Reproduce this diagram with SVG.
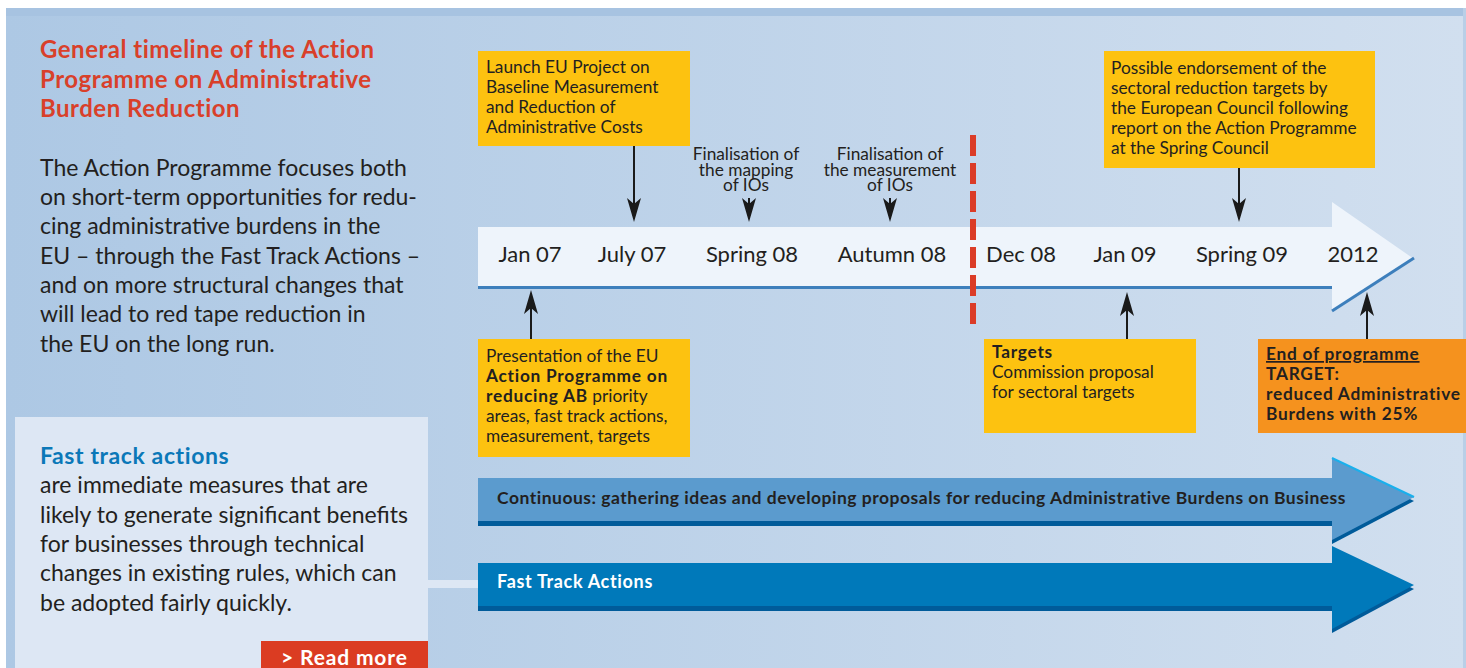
<svg xmlns="http://www.w3.org/2000/svg" width="1466" height="668" viewBox="0 0 1466 668">
<defs>
<linearGradient id="bg" x1="0" y1="0" x2="1" y2="0">
<stop offset="0" stop-color="#ADC8E4"/>
<stop offset="1" stop-color="#D1DFEF"/>
</linearGradient>
<marker id="ah" viewBox="0 0 24 14" refX="20" refY="7" markerWidth="24" markerHeight="14" markerUnits="userSpaceOnUse" orient="auto">
<path d="M0,0 L24,7 L0,14 L6,7 Z" fill="#1A1A1A"/>
</marker>
</defs>
<style>
text{font-family:Lato,"Open Sans","Liberation Sans",sans-serif;fill:#231F20}
.ttl{font-size:24px;font-weight:bold;fill:#D9402A;letter-spacing:0.5px}
.body{font-size:23px}
.ft{font-size:23px;font-weight:bold;fill:#0B78B8;letter-spacing:0.6px}
.box{font-size:17.3px}
.fin{font-size:17.3px;text-anchor:middle}
.date{font-size:22px;text-anchor:middle}
.b{font-weight:bold;letter-spacing:0.75px}
.yel{fill:#FDC210}
.org{fill:#F5921E}
.conn{stroke:#1A1A1A;stroke-width:2;fill:none;marker-end:url(#ah)}
.bar{font-size:17.5px;font-weight:bold;letter-spacing:0.5px}
</style>
<rect x="0" y="0" width="1466" height="668" fill="#FFFFFF"/>
<rect x="6" y="8" width="1460" height="660" fill="url(#bg)"/>
<rect x="6" y="8" width="1460" height="8" fill="#A7C3E1"/>
<rect x="1463" y="8" width="3" height="660" fill="#B9CFE7"/>

<g id="intro">
<text class="ttl" x="40" y="58">General timeline of the Action</text>
<text class="ttl" x="40" y="88">Programme on Administrative</text>
<text class="ttl" x="40" y="117">Burden Reduction</text>
<text class="body" x="40" y="176">The Action Programme focuses both</text>
<text class="body" x="40" y="205">on short-term opportunities for redu-</text>
<text class="body" x="40" y="234">cing administrative burdens in the</text>
<text class="body" x="40" y="264">EU – through the Fast Track Actions –</text>
<text class="body" x="40" y="293">and on more structural changes that</text>
<text class="body" x="40" y="322">will lead to red tape reduction in</text>
<text class="body" x="40" y="352">the EU on the long run.</text>
</g>

<g id="fast-track-info">
<rect x="15" y="417" width="413" height="251" fill="#DDE7F4"/>
<rect x="428" y="580" width="50" height="8" fill="#DDE7F4"/>
<text class="ft" x="40" y="464">Fast track actions</text>
<text class="body" x="40" y="493">are immediate measures that are</text>
<text class="body" x="40" y="523">likely to generate significant benefits</text>
<text class="body" x="40" y="552">for businesses through technical</text>
<text class="body" x="40" y="581">changes in existing rules, which can</text>
<text class="body" x="40" y="611">be adopted fairly quickly.</text>
</g>

<g id="read-more">
<rect x="261" y="641" width="167" height="27" fill="#DB3C22"/>
<text x="281" y="665" style="font-size:21px;font-weight:bold;fill:#FFFFFF;letter-spacing:0.85px">&gt; Read more</text>
</g>

<g id="timeline">
<path d="M478,227 H1332 V202 L1414,259 L1332,312 V289 H478 Z" fill="#EEF4FB"/>
<rect x="478" y="286" width="854" height="3" fill="#3D7FBC"/>
<line x1="1332" y1="311" x2="1414" y2="258" stroke="#3D7FBC" stroke-width="3"/>
<text class="date" x="530" y="262">Jan 07</text>
<text class="date" x="632" y="262">July 07</text>
<text class="date" x="752" y="262">Spring 08</text>
<text class="date" x="892" y="262">Autumn 08</text>
<text class="date" x="1021" y="262">Dec 08</text>
<text class="date" x="1125" y="262">Jan 09</text>
<text class="date" x="1242" y="262">Spring 09</text>
<text class="date" x="1353" y="262">2012</text>
</g>

<g id="divider">
<line x1="973" y1="135" x2="973" y2="324" stroke="#DB3C27" stroke-width="6" stroke-dasharray="21 7"/>
</g>

<g id="launch">
<rect class="yel" x="478" y="51" width="212" height="95"/>
<text class="box" x="486" y="73">Launch EU Project on</text>
<text class="box" x="486" y="93">Baseline Measurement</text>
<text class="box" x="486" y="113">and Reduction of</text>
<text class="box" x="486" y="133">Administrative Costs</text>
</g>

<g id="mapping">
<text class="fin"><tspan x="746" y="160">Finalisation of</tspan><tspan x="746" y="176">the mapping</tspan><tspan x="746" y="191">of IOs</tspan></text>
</g>

<g id="measurement">
<text class="fin"><tspan x="890" y="160">Finalisation of</tspan><tspan x="890" y="176">the measurement</tspan><tspan x="890" y="191">of IOs</tspan></text>
</g>

<g id="endorsement">
<rect class="yel" x="1104" y="51" width="271" height="117"/>
<text class="box" x="1111" y="74">Possible endorsement of the</text>
<text class="box" x="1111" y="94">sectoral reduction targets by</text>
<text class="box" x="1111" y="114">the European Council following</text>
<text class="box" x="1111" y="134">report on the Action Programme</text>
<text class="box" x="1111" y="154">at the Spring Council</text>
</g>

<g id="presentation">
<rect class="yel" x="478" y="339" width="212" height="118"/>
<text class="box" x="486" y="362">Presentation of the EU</text>
<text class="box b" x="486" y="382">Action Programme on</text>
<text class="box" x="486" y="402"><tspan class="b">reducing AB</tspan> priority</text>
<text class="box" x="486" y="422">areas, fast track actions,</text>
<text class="box" x="486" y="442">measurement, targets</text>
</g>

<g id="targets">
<rect class="yel" x="984" y="339" width="212" height="94"/>
<text class="box b" x="992" y="358">Targets</text>
<text class="box" x="992" y="378">Commission proposal</text>
<text class="box" x="992" y="398">for sectoral targets</text>
</g>

<g id="end-programme">
<rect class="org" x="1258" y="339" width="208" height="94"/>
<text class="box b" x="1266" y="360" text-decoration="underline">End of programme</text>
<text class="box b" x="1266" y="380">TARGET:</text>
<text class="box b" x="1266" y="400">reduced Administrative</text>
<text class="box b" x="1266" y="420">Burdens with 25%</text>
</g>

<g id="continuous">
<path d="M1332,462 L1414,501 L1332,544 Z" fill="#005B9A"/>
<rect x="478" y="478" width="854" height="48" fill="#005B9A"/>
<path d="M478,478 H1332 V458 L1414,497 L1332,540 V521 H478 Z" fill="#5B9BCE"/>
<line x1="1332" y1="458" x2="1414" y2="497" stroke="#1AB0EC" stroke-width="2"/>
<text class="bar" x="497" y="504">Continuous: gathering ideas and developing proposals for reducing Administrative Burdens on Business</text>
</g>

<g id="fast-track">
<path d="M1332,550 L1414,589 L1332,633 Z" fill="#005B9A"/>
<rect x="478" y="563" width="854" height="48" fill="#005B9A"/>
<path d="M478,563 H1332 V546 L1414,585 L1332,629 V606 H478 Z" fill="#0079BA"/>
<text class="bar" x="497" y="588" style="fill:#FFFFFF;font-size:18px;letter-spacing:0.67px">Fast Track Actions</text>
</g>

<g id="connectors">
<line class="conn" x1="634" y1="146" x2="634" y2="218"/>
<line class="conn" x1="749" y1="198" x2="749" y2="218"/>
<line class="conn" x1="890" y1="198" x2="890" y2="218"/>
<line class="conn" x1="1239" y1="168" x2="1239" y2="218"/>
<line class="conn" x1="531" y1="339" x2="531" y2="294"/>
<line class="conn" x1="1127" y1="339" x2="1127" y2="296"/>
<line class="conn" x1="1367" y1="339" x2="1367" y2="296"/>
</g>
</svg>
